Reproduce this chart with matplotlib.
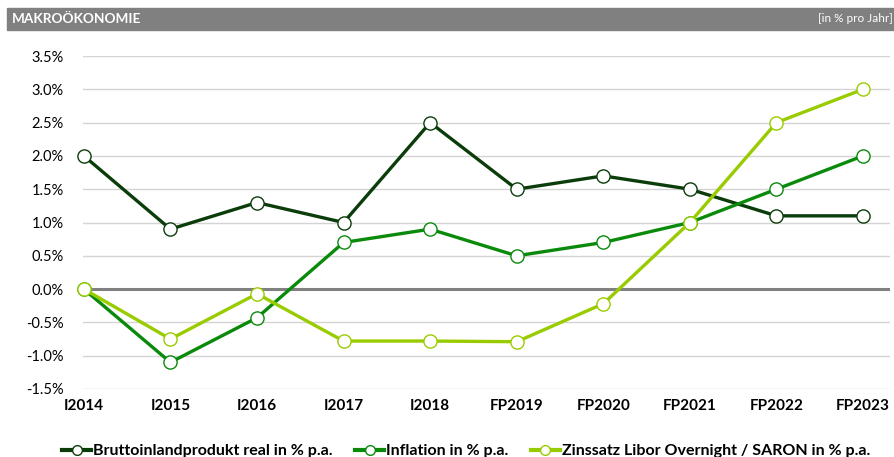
import numpy as np
import matplotlib.pyplot as plt
from matplotlib.patches import Rectangle

plt.rcParams['font.family'] = ['Lato', 'DejaVu Sans']

colors = {
    "gdp": "#0b3d0b",
    "inflation": "#0a8a0a",
    "libor": "#99cc00",
    "bar": "#808080",
}

years = ["I2014", "I2015", "I2016", "I2017", "I2018",
         "FP2019", "FP2020", "FP2021", "FP2022", "FP2023"]
gdp = [2.0, 0.9, 1.3, 1.0, 2.5, 1.5, 1.7, 1.5, 1.1, 1.1]
inflation = [0.0, -1.1, -0.43, 0.7, 0.9, 0.5, 0.7, 1.0, 1.5, 2.0]
libor = [0.0, -0.75, -0.07, -0.78, -0.78, -0.79, -0.22, 1.0, 2.5, 3.0]

labels = ["Bruttoinlandprodukt real in % p.a.", "Inflation in % p.a.",
          "Zinssatz Libor Overnight / SARON in % p.a."]

fig = plt.figure(figsize=(8.94, 4.57), dpi=100)

# Header bar
fig.patches.append(Rectangle((7 / 894, 1 - 30 / 457), 1, 22 / 457,
                             transform=fig.transFigure, color=colors["bar"], zorder=0))
fig.text(12 / 894, 1 - 19 / 457, "MAKROÖKONOMIE", color="white", fontsize=9.8,
         fontweight="bold", va="center", ha="left")
fig.text(893 / 894, 1 - 19 / 457, "[in % pro Jahr]", color="white", fontsize=8.5,
         va="center", ha="right")

ax = fig.add_axes([83 / 894, 1 - 389 / 457, (890 - 83) / 894, (389 - 56) / 457])
x = np.arange(len(years))

ax.axhline(0, color="#808080", lw=2.2, zorder=2)
for y, key, lab in zip([gdp, inflation, libor], ["gdp", "inflation", "libor"], labels):
    ax.plot(x, y, color=colors[key], lw=2.4, marker="o", markersize=9.5,
            markerfacecolor="white", markeredgecolor=colors[key],
            markeredgewidth=1.0, label=lab, zorder=3, clip_on=False)

ax.set_ylim(-1.5, 3.5)
ax.set_xlim(-0.01, 9 + 27 / 86.6)
ax.set_yticks(np.arange(-1.5, 3.51, 0.5))
ax.set_yticklabels(["{:.1f}%".format(v) for v in np.arange(-1.5, 3.51, 0.5)], fontsize=10.5)
ax.set_xticks(x)
ax.set_xticklabels(years, fontsize=11, fontweight="bold")
ax.grid(axis="y", color="#d4d4d4", lw=1)
ax.set_axisbelow(True)
ax.tick_params(axis="y", length=0, pad=14)
ax.tick_params(axis="x", length=0, pad=7)
for s in ax.spines.values():
    s.set_visible(False)

leg = fig.legend(loc="center", bbox_to_anchor=(466 / 894, 1 - 451 / 457), ncol=3,
                 frameon=False, handlelength=1.85, columnspacing=1.4,
                 handletextpad=0.1, prop={"weight": "bold", "size": 11.5})
for h in leg.legend_handles:
    h.set_markersize(7)
    h.set_linewidth(3)

fig.savefig("out.png", dpi=100)
